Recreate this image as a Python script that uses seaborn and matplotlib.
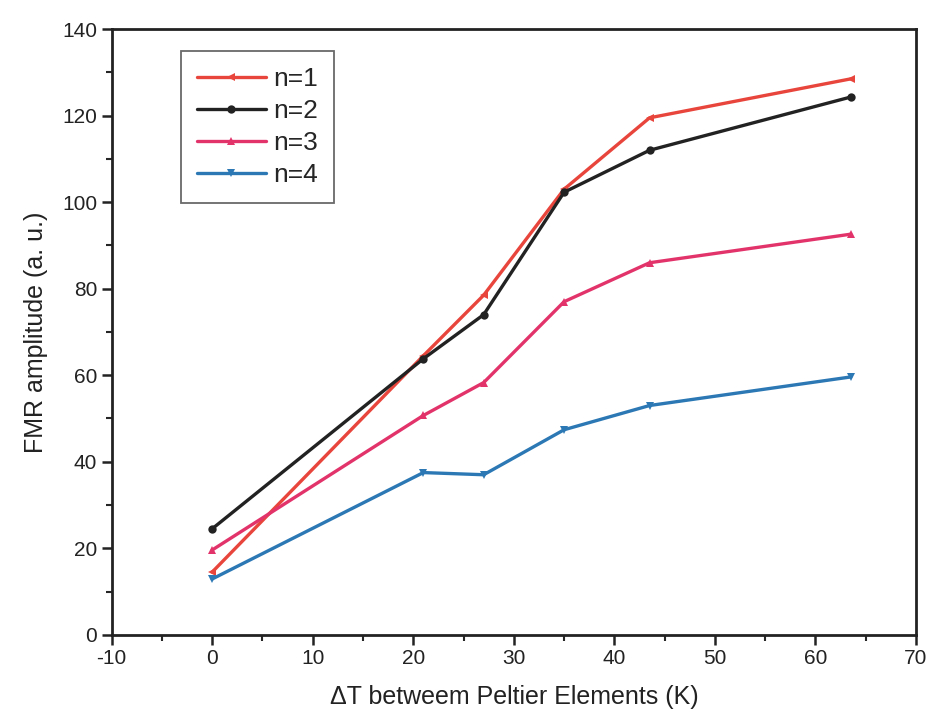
import matplotlib
matplotlib.use("Agg")
import matplotlib.pyplot as plt
import seaborn as sns
import pandas as pd
from matplotlib.ticker import MultipleLocator

delta_t = [0, 21, 27, 35, 43.5, 63.5]
n1 = [14.5, 64.5, 78.5, 103, 119.5, 128.5]
n2 = [24.5, 63.8, 74, 102.3, 112, 124.3]
n3 = [19.6, 50.7, 58.3, 77, 86, 92.6]
n4 = [12.9, 37.5, 37, 47.4, 53, 59.6]
series_names = ["n=1", "n=2", "n=3", "n=4"]
colors = ["#E8453C", "#222222", "#E2336B", "#2B78B5"]
markers = ["<", "o", "^", "v"]

rows = []
for name, vals in zip(series_names, [n1, n2, n3, n4]):
    for x, y in zip(delta_t, vals):
        rows.append({"dT": x, "amp": y, "series": name})
df = pd.DataFrame(rows)

sns.set_theme(style="ticks")
plt.rcParams["font.family"] = ["Liberation Sans", "DejaVu Sans"]
plt.rcParams["axes.unicode_minus"] = False

fig = plt.figure(figsize=(9.3, 7.28), dpi=100)
ax = fig.add_axes([0.12, 0.128, 0.865, 0.832])

sns.lineplot(data=df, x="dT", y="amp", hue="series", style="series",
             palette=dict(zip(series_names, colors)),
             markers=dict(zip(series_names, markers)),
             dashes=False, linewidth=2.4, markersize=6,
             markeredgewidth=0, ax=ax)

ax.set_xlim(-10, 70)
ax.set_ylim(0, 140)
ax.xaxis.set_major_locator(MultipleLocator(10))
ax.xaxis.set_minor_locator(MultipleLocator(5))
ax.yaxis.set_major_locator(MultipleLocator(20))
ax.yaxis.set_minor_locator(MultipleLocator(10))
ax.tick_params(axis="both", which="major", direction="out", length=7, width=1.8,
               labelsize=15, colors="#222222")
ax.tick_params(axis="both", which="minor", direction="out", length=4, width=1.5)
ax.tick_params(top=False, right=False)
for s in ax.spines.values():
    s.set_linewidth(2)
    s.set_color("#222222")

ax.set_xlabel("ΔT betweem Peltier Elements (K)", fontsize=18, color="#222222", labelpad=12)
ax.set_ylabel("FMR amplitude (a. u.)", fontsize=18, color="#222222", labelpad=10)

leg = ax.legend(loc="upper left", bbox_to_anchor=(0.07, 0.985), fontsize=19,
                frameon=True, fancybox=False, edgecolor="#444444",
                handlelength=2.6, handletextpad=0.3, borderpad=0.6,
                labelspacing=0.3, title=None)
leg.get_frame().set_linewidth(1.3)

fig.savefig("out.png", dpi=100)
